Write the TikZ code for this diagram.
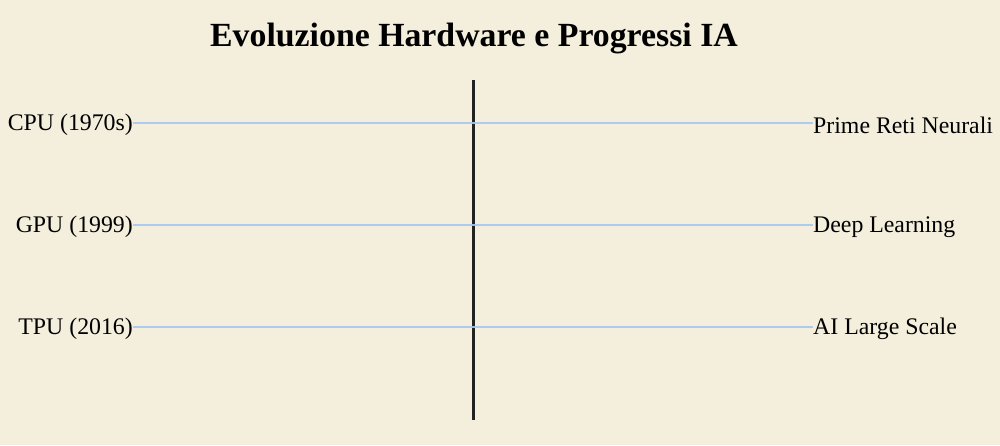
\documentclass[tikz,border=0pt]{standalone}
\usepackage{fontspec}
\setmainfont{Liberation Serif}
\definecolor{bg}{HTML}{F3EFDC}
\definecolor{conn}{HTML}{A6C8F0}
\definecolor{axis}{HTML}{222222}
\begin{document}
\begin{tikzpicture}[x=1pt,y=-1pt,
  lbl/.style={inner sep=0pt,font=\fontsize{23.8}{28}\selectfont,text=black},
  leftlbl/.style={lbl,anchor=east},
  rightlbl/.style={lbl,anchor=west},
  link/.style={draw=conn,line width=1.6pt,opacity=0.9},
  axisline/.style={draw=axis,line width=3pt}]
\fill[bg] (0,0) rectangle (1000,445);
\useasboundingbox (0,0) rectangle (1000,445);
\node[font=\bfseries\fontsize{33.8}{40}\selectfont,inner sep=0pt] (title) at (474,38) {Evoluzione Hardware e Progressi IA};
\coordinate (top) at (473,80);
\coordinate (bot) at (473,420);
\draw[axisline] (top) -- (bot);
\node[leftlbl] (cpu) at (133,125) {CPU (1970s)};
\node[leftlbl] (gpu) at (133,227) {GPU (1999)};
\node[leftlbl] (tpu) at (133,329) {TPU (2016)};
\node[rightlbl] (nn) at (813,125) {Prime Reti Neurali};
\node[rightlbl] (dl) at (813,227) {Deep Learning};
\node[rightlbl] (ai) at (813,329) {AI Large Scale};
\draw[link] (cpu.east |- 0,123) -- (nn.west |- 0,123);
\draw[link] (gpu.east |- 0,225) -- (dl.west |- 0,225);
\draw[link] (tpu.east |- 0,327) -- (ai.west |- 0,327);
\end{tikzpicture}
\end{document}
